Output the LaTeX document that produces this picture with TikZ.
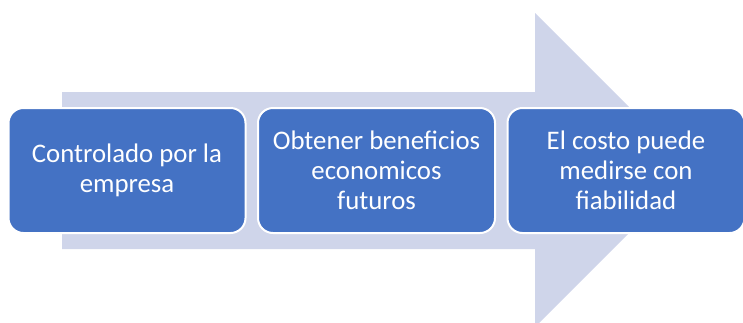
\documentclass[tikz,border=0pt]{standalone}
\usepackage{fontspec}
\setmainfont{Carlito}
\definecolor{arrowfill}{HTML}{CFD5EA}
\definecolor{boxfill}{HTML}{4472C4}
\begin{document}
\begin{tikzpicture}[x=1pt,y=-1pt,
  stepbox/.style={draw=white, line width=2pt, fill=boxfill, rounded corners=15pt,
    minimum width=237pt, minimum height=125pt, text=white, align=center,
    font=\fontsize{26.8}{30}\selectfont, inner sep=0pt}]
\useasboundingbox (0,0) rectangle (743,322);
\fill[arrowfill] (62,92) -- (535,92) -- (535,13) -- (692,170) -- (535,327) -- (535,249) -- (62,249) -- cycle;
\node[stepbox] (a) at (127,170.5) {Controlado por la\\empresa};
\node[stepbox] (b) at (376.5,170.5) {Obtener beneficios\\economicos\\futuros};
\node[stepbox] (c) at (626,170.5) {El costo puede\\medirse con\\fiabilidad};
\end{tikzpicture}
\end{document}
